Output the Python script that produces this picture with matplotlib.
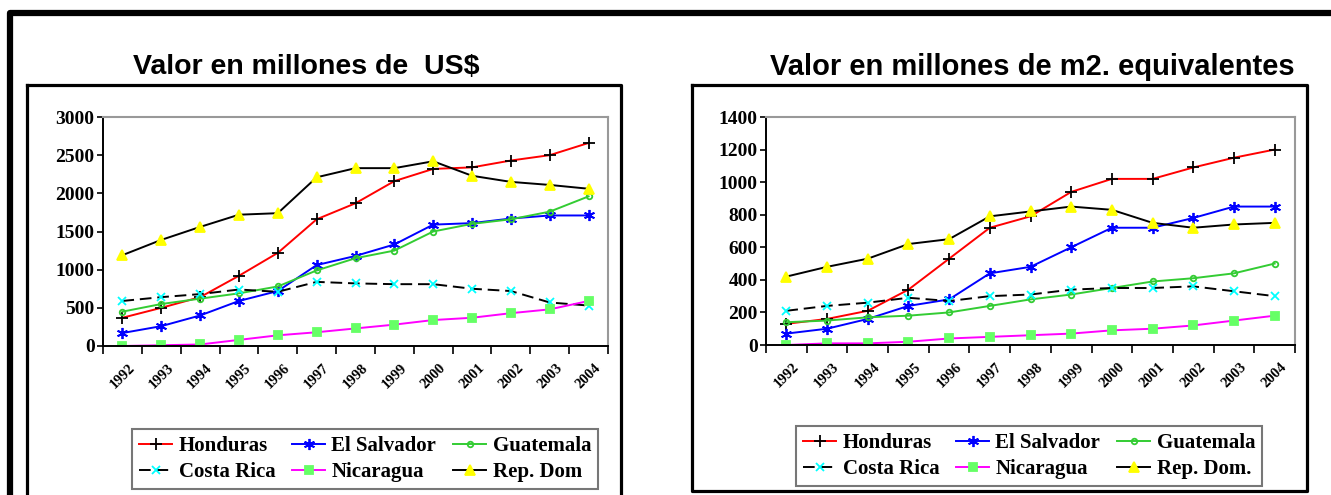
import numpy as np
import matplotlib
matplotlib.use("Agg")
import matplotlib.pyplot as plt
from matplotlib.lines import Line2D

W, H = 1331, 495

years = ["1992", "1993", "1994", "1995", "1996", "1997", "1998",
         "1999", "2000", "2001", "2002", "2003", "2004"]
countries = ["Honduras", "El Salvador", "Guatemala",
             "Costa Rica", "Nicaragua", "Rep. Dom"]

# Valor en millones de US$
usd_honduras = [370, 500, 640, 920, 1220, 1660, 1870, 2160, 2320, 2340, 2430, 2500, 2660]
usd_salvador = [170, 260, 400, 590, 720, 1060, 1180, 1330, 1590, 1610, 1670, 1710, 1710]
usd_guatemala = [450, 550, 620, 690, 780, 990, 1150, 1250, 1500, 1600, 1660, 1760, 1960]
usd_costarica = [590, 640, 680, 740, 710, 840, 820, 810, 810, 750, 720, 570, 530]
usd_nicaragua = [0, 10, 20, 80, 140, 180, 230, 280, 340, 370, 430, 480, 590]
usd_repdom = [1190, 1390, 1560, 1720, 1740, 2210, 2330, 2330, 2420, 2230, 2150, 2110, 2060]

# Valor en millones de m2 equivalentes
m2_honduras = [130, 160, 210, 340, 530, 720, 790, 940, 1020, 1020, 1090, 1150, 1200]
m2_salvador = [70, 100, 160, 240, 280, 440, 480, 600, 720, 720, 780, 850, 850]
m2_guatemala = [140, 150, 170, 180, 200, 240, 280, 310, 350, 390, 410, 440, 500]
m2_costarica = [210, 240, 260, 290, 270, 300, 310, 340, 350, 350, 360, 330, 300]
m2_nicaragua = [0, 10, 10, 20, 40, 50, 60, 70, 90, 100, 120, 150, 180]
m2_repdom = [420, 480, 530, 620, 650, 790, 820, 850, 830, 750, 720, 740, 750]

# line color, linestyle, marker, marker face, marker edge, size
styles = [
    ("#ff0000", "-", "+", "none", "black", 8),
    ("#0000ff", "-", (6, 2, 0), "#0000ff", "#0000ff", 8),
    ("#33cc33", "-", "o", "none", "#33cc33", 4),
    ("black", (0, (6, 3)), "x", "#00ffff", "#00ffff", 6),
    ("#ff00ff", "-", "s", "#66ff66", "#66ff66", 6),
    ("black", "-", "^", "#ffff00", "#ffff00", 7),
]


def frac(x0, y0, x1, y1):
    return [x0 / W, 1 - y1 / H, (x1 - x0) / W, (y1 - y0) / H]


def draw_chart(ax, series, ymax, ystep):
    x = np.arange(len(years))
    for vals, st in zip(series, styles):
        color, ls, mk, mfc, mec, ms = st
        ax.plot(x, vals, color=color, linestyle=ls, linewidth=1.4,
                marker=mk, markerfacecolor=mfc, markeredgecolor=mec,
                markersize=ms, markeredgewidth=1.3)
    ax.set_xlim(-0.5, len(years) - 0.5)
    ax.set_ylim(0, ymax)
    ax.set_yticks(np.arange(0, ymax + 1, ystep))
    ax.set_yticklabels([str(v) for v in np.arange(0, ymax + 1, ystep)],
                       fontfamily="Liberation Serif", fontweight="bold", fontsize=14)
    ax.set_xticks(np.arange(-0.5, len(years)), labels=[])
    ax.set_xticks(x, minor=True)
    ax.set_xticklabels(years, minor=True, rotation=45, ha="center", va="top",
                       fontfamily="Liberation Serif", fontweight="bold", fontsize=10.5)
    ax.tick_params(axis="x", which="major", direction="out", length=6, width=1.2)
    ax.tick_params(axis="x", which="minor", length=0, pad=11)
    ax.tick_params(axis="y", direction="out", length=4, width=1.2, pad=2)
    for side in ["left", "bottom"]:
        ax.spines[side].set_linewidth(1.4)
    for side in ["top", "right"]:
        ax.spines[side].set_color("#999999")
        ax.spines[side].set_linewidth(1.5)


fig = plt.figure(figsize=(W / 100, H / 100), dpi=100)

ax1 = fig.add_axes(frac(103, 117, 608, 346))
draw_chart(ax1, [usd_honduras, usd_salvador, usd_guatemala,
                 usd_costarica, usd_nicaragua, usd_repdom], 3000, 500)
ax2 = fig.add_axes(frac(766, 117, 1295, 345))
draw_chart(ax2, [m2_honduras, m2_salvador, m2_guatemala,
                 m2_costarica, m2_nicaragua, m2_repdom], 1400, 200)

fig.text(306 / W, 1 - 67 / H, "Valor en millones de  US$", ha="center", va="center",
         fontfamily="Liberation Sans", fontweight="bold", fontsize=20.5)
fig.text(1032 / W, 1 - 67 / H, "Valor en millones de m2. equivalentes", ha="center",
         va="center", fontfamily="Liberation Sans", fontweight="bold", fontsize=21)

# legend rows: first three countries on top, other three below
order = [0, 3, 1, 4, 2, 5]
for ax, labels, cx, cy in [(ax1, countries, 365, 459),
                           (ax2, countries[:5] + ["Rep. Dom."], 1029, 456)]:
    leg = ax.legend([ax.lines[i] for i in order], [labels[i] for i in order],
                    loc="center", bbox_to_anchor=(cx / W, 1 - cy / H),
                    bbox_transform=fig.transFigure, ncol=3, fancybox=False,
                    frameon=True, edgecolor="#555555", handlelength=1.6,
                    handletextpad=0.3, columnspacing=0.8, labelspacing=0.3,
                    borderpad=0.35, prop={"family": "Liberation Serif",
                                          "weight": "bold", "size": 15})
    leg.get_frame().set_linewidth(1.5)

# frames around the picture and each panel
def fline(xs, ys, lw):
    fig.add_artist(Line2D([x / W for x in xs], [1 - y / H for y in ys],
                          color="black", linewidth=lw, transform=fig.transFigure,
                          solid_capstyle="projecting"))

fline([10, 10, W + 5], [H + 5, 12.5, 12.5], 4.5)
fline([26.5, 26.5], [H + 5, 84.5], 2.3)
fline([26.5, 620.5, 620.5], [84.5, 84.5, H + 5], 2.3)
fline([691.5, 1306.5, 1306.5, 691.5, 691.5], [84.5, 84.5, 490.5, 490.5, 84.5], 2.3)

fig.savefig("out.png", dpi=100)
